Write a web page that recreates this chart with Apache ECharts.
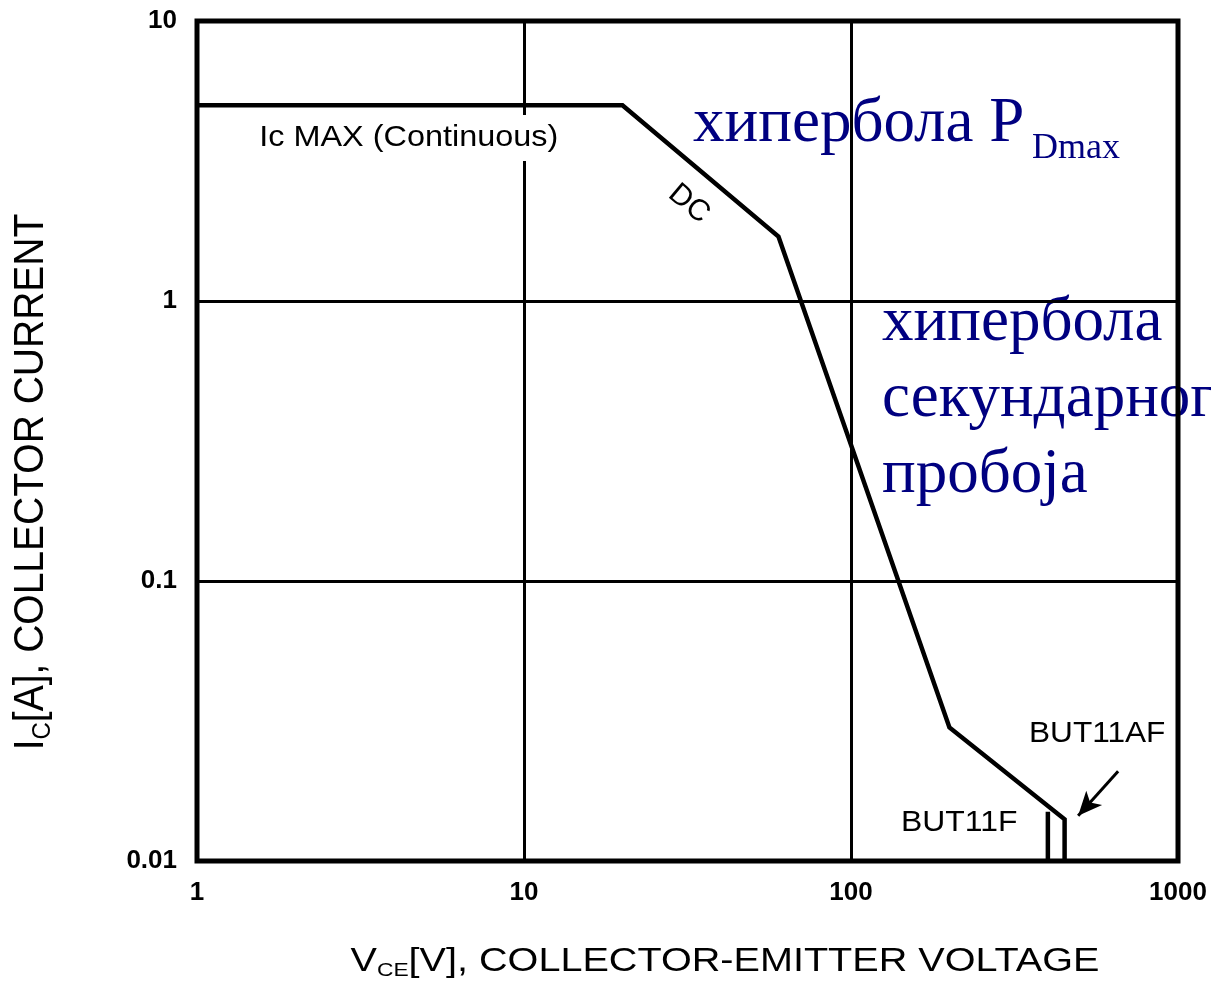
<!DOCTYPE html>
<html>
<head>
<meta charset="utf-8">
<title>BUT11F / BUT11AF safe operating area</title>
<script src="https://cdn.jsdelivr.net/npm/echarts@6/dist/echarts.min.js"></script>
<style>
  html, body { margin: 0; padding: 0; background: #ffffff; }
  #chart { width: 1211px; height: 991px; }
</style>
</head>
<body>
<div id="chart"></div>
<script>
// Axis decades (log scale) and their labels
const xTicks = [1, 10, 100, 1000];
const yTicks = [0.01, 0.1, 1, 10];

// DC safe operating area boundary (BUT11AF ends at 450 V)
const socVoltage = [1, 20, 60, 200, 450, 450];
const socCurrent = [5, 5, 1.7, 0.03, 0.0141, 0.01];

// BUT11F voltage limit (400 V)
const but11fVoltage = [400, 400];
const but11fCurrent = [0.015, 0.01];

// Pointer towards the BUT11AF limit
const arrowStart = [656, 0.0209];
const arrowEnd = [495, 0.0145];

const sans = "'Liberation Sans', Arial, Helvetica, sans-serif";
const serif = "'Liberation Serif', 'Times New Roman', serif";
const ink = '#000000';
const navy = '#000080';

const chart = echarts.init(document.getElementById('chart'), null, { renderer: 'canvas' });

const pairs = (xs, ys) => xs.map((x, i) => [x, ys[i]]);

const option = {
  animation: false,
  backgroundColor: '#ffffff',
  grid: {
    left: 197, right: 33, top: 21, bottom: 130,
    show: true, borderColor: ink, borderWidth: 5,
    containLabel: false, outerBoundsMode: 'none'
  },
  xAxis: {
    type: 'log', logBase: 10,
    min: xTicks[0], max: xTicks[xTicks.length - 1],
    axisLine: { show: false },
    axisTick: { show: false },
    splitLine: { show: true, lineStyle: { color: ink, width: 3 } },
    minorSplitLine: { show: false },
    axisLabel: {
      show: true, margin: 19, color: ink,
      fontFamily: sans, fontWeight: 'bold', fontSize: 26,
      showMinLabel: true, showMaxLabel: true,
      formatter: v => {
        const t = xTicks.find(k => Math.abs(Math.log10(k) - Math.log10(v)) < 1e-6);
        return t === undefined ? '' : String(t);
      }
    }
  },
  yAxis: {
    type: 'log', logBase: 10,
    min: yTicks[0], max: yTicks[yTicks.length - 1],
    axisLine: { show: false },
    axisTick: { show: false },
    splitLine: { show: true, lineStyle: { color: ink, width: 3 } },
    minorSplitLine: { show: false },
    axisLabel: {
      show: true, margin: 20, color: ink,
      fontFamily: sans, fontWeight: 'bold', fontSize: 26,
      showMinLabel: true, showMaxLabel: true,
      formatter: v => {
        const t = yTicks.find(k => Math.abs(Math.log10(k) - Math.log10(v)) < 1e-6);
        return t === undefined ? '' : String(t);
      }
    }
  },
  series: [
    {
      name: 'DC',
      type: 'line',
      data: pairs(socVoltage, socCurrent),
      symbol: 'none',
      lineStyle: { color: ink, width: 4.5, join: 'miter' },
      z: 5,
      markLine: {
        silent: true,
        symbol: ['none', 'arrow'],
        symbolSize: [16, 24],
        label: { show: false },
        lineStyle: { color: ink, width: 3, type: 'solid' },
        data: [[{ coord: arrowStart }, { coord: arrowEnd }]]
      }
    },
    {
      name: 'BUT11F',
      type: 'line',
      data: pairs(but11fVoltage, but11fCurrent),
      symbol: 'none',
      lineStyle: { color: ink, width: 4.5 },
      z: 5
    }
  ],
  graphic: [
    // Collector current limit label (white box interrupts the grid line)
    {
      type: 'text', x: 255, y: 138, scaleX: 1.08, z: 50,
      style: {
        text: 'Ic MAX (Continuous)', fill: ink,
        font: '30px ' + sans,
        align: 'left', verticalAlign: 'middle',
        textAlign: 'left', textVerticalAlign: 'middle',
        backgroundColor: '#ffffff', padding: [8, 4, 8, 4]
      }
    },
    // DC label along the sloped segment
    {
      type: 'text', x: 689, y: 204, rotation: -0.70, z: 50,
      style: {
        text: 'DC', fill: ink, font: '30px ' + sans,
        align: 'center', verticalAlign: 'middle',
        textAlign: 'center', textVerticalAlign: 'middle'
      }
    },
    {
      type: 'text', x: 1029, y: 734, scaleX: 1.09, z: 50,
      style: {
        text: 'BUT11AF', fill: ink, font: '29px ' + sans,
        align: 'left', verticalAlign: 'middle',
        textAlign: 'left', textVerticalAlign: 'middle'
      }
    },
    {
      type: 'text', x: 901, y: 823, scaleX: 1.1, z: 50,
      style: {
        text: 'BUT11F', fill: ink, font: '29px ' + sans,
        align: 'left', verticalAlign: 'middle',
        textAlign: 'left', textVerticalAlign: 'middle'
      }
    },
    // Power dissipation hyperbola
    {
      type: 'text', x: 693, y: 124, z: -1,
      style: {
        text: 'хипербола P', fill: navy, font: '63px ' + serif,
        align: 'left', verticalAlign: 'middle',
        textAlign: 'left', textVerticalAlign: 'middle'
      }
    },
    {
      type: 'text', x: 1032, y: 149, z: -1,
      style: {
        text: 'Dmax', fill: navy, font: '36px ' + serif,
        align: 'left', verticalAlign: 'middle',
        textAlign: 'left', textVerticalAlign: 'middle'
      }
    },
    // Second breakdown hyperbola
    {
      type: 'text', x: 882, y: 285, z: -1,
      style: {
        text: 'хипербола\nсекундарног\nпробоја', fill: navy,
        font: '63px ' + serif, lineHeight: 76,
        align: 'left', verticalAlign: 'top',
        textAlign: 'left', textVerticalAlign: 'top'
      }
    },
    // X axis title
    {
      type: 'text', x: 725, y: 964, scaleX: 1.2, z: 50,
      style: {
        text: '{m|V}{s|CE}{m|[V], COLLECTOR-EMITTER VOLTAGE}',
        align: 'center', verticalAlign: 'middle',
        textAlign: 'center', textVerticalAlign: 'middle',
        fill: ink,
        rich: {
          m: { fontSize: 33, fontFamily: sans, fill: ink, color: ink, lineHeight: 33, padding: [0, 0, 2, 0], verticalAlign: 'bottom' },
          s: { fontSize: 19, fontFamily: sans, fill: ink, color: ink, lineHeight: 19, verticalAlign: 'bottom' }
        }
      }
    },
    // Y axis title
    {
      type: 'text', x: 35, y: 482, rotation: Math.PI / 2, scaleY: 1.07, z: 50,
      style: {
        text: '{m|I}{s|C}{m|[A], COLLECTOR CURRENT}',
        align: 'center', verticalAlign: 'middle',
        textAlign: 'center', textVerticalAlign: 'middle',
        fill: ink,
        rich: {
          m: { fontSize: 39, fontFamily: sans, fill: ink, color: ink, lineHeight: 39, padding: [0, 0, 3, 0], verticalAlign: 'bottom' },
          s: { fontSize: 24, fontFamily: sans, fill: ink, color: ink, lineHeight: 24, verticalAlign: 'bottom' }
        }
      }
    }
  ]
};

chart.setOption(option);
</script>
</body>
</html>
